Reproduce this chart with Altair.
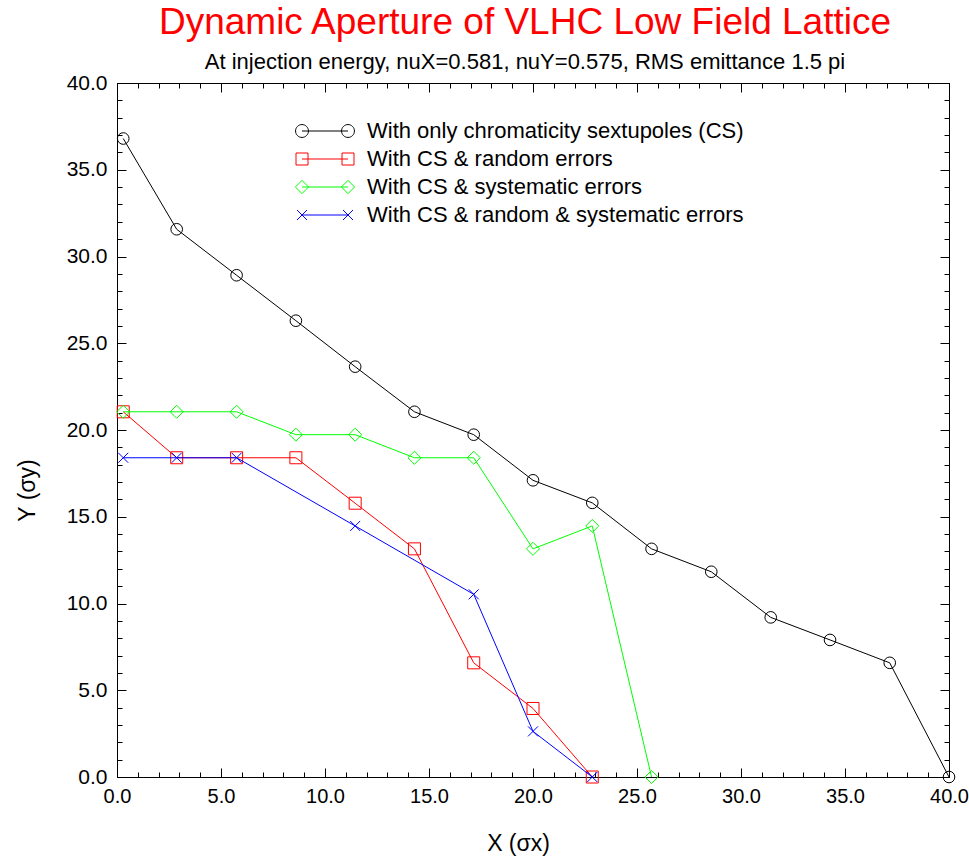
import altair as alt
import pandas as pd

# ---------------- data ----------------
x_pos = [0.3, 2.87, 5.75, 8.6, 11.45, 14.3, 17.15, 20.0, 22.85, 25.7, 28.57, 31.43, 34.28, 37.15, 40.0]
cs_only_y = [36.8, 31.57, 28.92, 26.3, 23.65, 21.05, 19.73, 17.1, 15.8, 13.15, 11.83, 9.2, 7.9, 6.58, 0.0]
cs_random_y = [21.05, 18.4, 18.4, 18.4, 15.78, 13.15, 6.58, 3.95, 0.0]
cs_systematic_y = [21.05, 21.05, 21.05, 19.73, 19.73, 18.4, 18.4, 13.15, 14.47, 0.0]
cs_all_x = [0.3, 2.87, 5.75, 11.45, 17.15, 20.0, 22.85]
cs_all_y = [18.4, 18.4, 18.4, 14.47, 10.53, 2.63, 0.0]

series_names = [
    "With only chromaticity sextupoles (CS)",
    "With CS & random errors",
    "With CS & systematic errors",
    "With CS & random & systematic errors",
]
series_colors = ["#000000", "#ff0000", "#00ff00", "#0000ff"]

major_ticks = [0, 5, 10, 15, 20, 25, 30, 35, 40]
minor_ticks = list(range(0, 41))

# ---------------- table ----------------
rows = []
for xv, yv in zip(x_pos, cs_only_y):
    rows.append({"series": series_names[0], "x": xv, "y": yv})
for xv, yv in zip(x_pos, cs_random_y):
    rows.append({"series": series_names[1], "x": xv, "y": yv})
for xv, yv in zip(x_pos, cs_systematic_y):
    rows.append({"series": series_names[2], "x": xv, "y": yv})
for xv, yv in zip(cs_all_x, cs_all_y):
    rows.append({"series": series_names[3], "x": xv, "y": yv})
df = pd.DataFrame(rows)

# ---------------- styling ----------------
FONT = "Liberation Sans"
W, H = 832, 694
x_scale = alt.Scale(domain=[0, 40], nice=False, zero=False)
y_scale = alt.Scale(domain=[0, 40], nice=False, zero=False)
color_scale = alt.Scale(domain=series_names, range=series_colors)

X_SHAPE = "M-1,-1L1,1M-1,1L1,-1"
marker_shapes = ["circle", "square", "diamond", X_SHAPE]
marker_sizes = [135, 144, 170, 100]

# legend glyphs: marker - line - marker  (path units scaled by sqrt(symbolSize)/2 = 10 px)
c = 2.3
line = f"M{-c},0L{c},0"
def circ(cx, r=0.645):
    return f"M{cx - r},0A{r},{r} 0 1,0 {cx + r},0A{r},{r} 0 1,0 {cx - r},0"
def sq(cx, h=0.6):
    return f"M{cx - h},{-h}L{cx + h},{-h}L{cx + h},{h}L{cx - h},{h}Z"
def dia(cx, h=0.66):
    return f"M{cx - h},0L{cx},{-h}L{cx + h},0L{cx},{h}Z"
def xx(cx, h=0.5):
    return f"M{cx - h},{-h}L{cx + h},{h}M{cx - h},{h}L{cx + h},{-h}"
glyphs = [
    line + circ(-c) + circ(c),
    line + sq(-c) + sq(c),
    line + dia(-c) + dia(c),
    line + xx(-c) + xx(c),
]

# ---------------- layers ----------------
def axis_layer(x_axis, y_axis):
    return alt.Chart(df).transform_filter("false").mark_point(opacity=0).encode(
        x=alt.X("x:Q", scale=x_scale, axis=x_axis),
        y=alt.Y("y:Q", scale=y_scale, axis=y_axis),
    )

tick_common = dict(labels=False, domain=False, tickColor="black", tickWidth=1, title="", grid=False)

label_layer = axis_layer(
    alt.Axis(orient="bottom", values=major_ticks, format=".1f", ticks=False, tickSize=0, domain=False,
             labelFont=FONT, labelFontSize=20, labelColor="black", labelPadding=9, labelFlush=False,
             title="X (σx)", titleFont=FONT, titleFontSize=23, titleFontWeight="normal",
             titleColor="black", titlePadding=26, titleX=401, titleAnchor="middle", grid=False),
    alt.Axis(orient="left", values=major_ticks, format=".1f", ticks=False, tickSize=0, domain=False,
             labelFont=FONT, labelFontSize=21, labelColor="black", labelPadding=10, labelFlush=False,
             title="Y (σy)", titleFont=FONT, titleFontSize=23, titleFontWeight="normal",
             titleColor="black", titlePadding=27, titleY=407, titleAnchor="middle", grid=False),
)
major_in_bl = axis_layer(
    alt.Axis(orient="top", offset=-H, values=major_ticks, tickSize=9, **tick_common),
    alt.Axis(orient="right", offset=-W, values=major_ticks, tickSize=9, **tick_common),
)
minor_in_bl = axis_layer(
    alt.Axis(orient="top", offset=-H, values=minor_ticks, tickSize=5, **tick_common),
    alt.Axis(orient="right", offset=-W, values=minor_ticks, tickSize=5, **tick_common),
)
major_in_tr = axis_layer(
    alt.Axis(orient="bottom", offset=-H, values=major_ticks, tickSize=9, **tick_common),
    alt.Axis(orient="left", offset=-W, values=major_ticks, tickSize=9, **tick_common),
)
minor_in_tr = axis_layer(
    alt.Axis(orient="bottom", offset=-H, values=minor_ticks, tickSize=5, **tick_common),
    alt.Axis(orient="left", offset=-W, values=minor_ticks, tickSize=5, **tick_common),
)

series_layers = []
for name, col, shp, sz in zip(series_names, series_colors, marker_shapes, marker_sizes):
    series_layers.append(
        alt.Chart(df).transform_filter(alt.datum.series == name).mark_line(
            strokeWidth=1, color=col,
            point=alt.OverlayMarkDef(shape=shp, size=sz, filled=False, strokeWidth=1, opacity=1, color=col),
        ).encode(
            x=alt.X("x:Q", scale=x_scale, axis=None),
            y=alt.Y("y:Q", scale=y_scale, axis=None),
        )
    )

leg = alt.Legend(
    orient="none", legendX=197, legendY=37, title=None,
    labelFont=FONT, labelFontSize=22, labelColor="black", labelLimit=700,
    symbolSize=400, symbolStrokeWidth=1, symbolFillColor="transparent", symbolOpacity=1,
    labelOffset=31, rowPadding=6, padding=0,
)
legend_layer = alt.Chart(df).transform_filter("false").mark_point(filled=False, strokeWidth=1).encode(
    x=alt.X("x:Q", scale=x_scale, axis=None),
    y=alt.Y("y:Q", scale=y_scale, axis=None),
    color=alt.Color("series:N", scale=color_scale, legend=leg),
    shape=alt.Shape("series:N", scale=alt.Scale(domain=series_names, range=glyphs), legend=leg),
)

chart = alt.layer(
    legend_layer, label_layer, major_in_bl, minor_in_bl, major_in_tr, minor_in_tr,
    *series_layers,
).resolve_axis(x="independent", y="independent").properties(
    width=W, height=H,
    autosize=alt.AutoSizeParams(type="none"),
    padding={"left": 117, "top": 83, "right": 20, "bottom": 82},
    background="white",
    title=alt.TitleParams(
        text="Dynamic Aperture of VLHC Low Field Lattice",
        subtitle="At injection energy, nuX=0.581, nuY=0.575, RMS emittance 1.5 pi",
        color="#ff0000", font=FONT, fontSize=37, fontWeight="normal",
        subtitleColor="black", subtitleFont=FONT, subtitleFontSize=22, subtitlePadding=10,
        anchor="middle", frame="group", dx=-8, offset=-2,
    ),
).configure_view(stroke="black", strokeWidth=1)

chart.save("out.html", embed_options={"renderer": "svg", "actions": False})
